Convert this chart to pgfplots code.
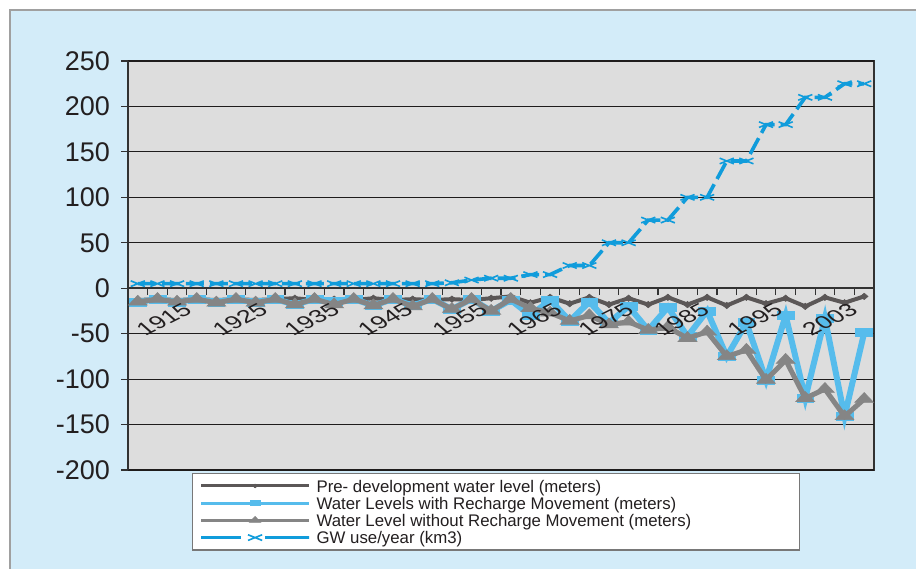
\documentclass[border=0pt]{standalone}
\usepackage{fontspec}
\setmainfont{Liberation Sans}
\usepackage{pgfplots}
\usepackage{pgfplotstable}
\pgfplotsset{compat=1.18}

\definecolor{bgblue}{RGB}{211,236,249}
\definecolor{framegray}{RGB}{160,160,160}
\definecolor{plotgray}{RGB}{221,221,221}
\definecolor{axisdark}{RGB}{50,50,50}
\definecolor{gridblack}{RGB}{30,28,28}
\definecolor{textdark}{RGB}{35,31,32}
\definecolor{predark}{RGB}{91,87,87}
\definecolor{rechblue}{RGB}{86,188,236}
\definecolor{wogray}{RGB}{133,133,133}
\definecolor{gwblue}{RGB}{16,156,219}
\definecolor{legendgray}{RGB}{120,120,120}

% c = category index, one row per period
\pgfplotstableread{
c  pre  rech  wo    gw
0  -13  -15   -15   5
1  -12  -12   -12   5
2  -13  -15   -15   5
3  -12  -12   -12   5
4  -13  -15   -16   5
5  -12  -12   -12   5
6  -13  -16   -16   5
7  -12  -12   -12   5
8  -11  -18   -18   5
9  -13  -12   -12   5
10 -12  -14   -18   5
11 -13  -12   -12   5
12 -11  -19   -19   5
13 -13  -12   -12   5
14 -12  -19   -20   5
15 -13  -12   -12   5
16 -12  -23   -23   6
17 -13  -12   -12   9
18 -11  -25   -25   11
19 -9   -13   -12   11
20 -16  -30   -22   15
21 -10  -13   -27   15
22 -17  -36   -36   25
23 -10  -15   -30   25
24 -18  -38   -40   50
25 -11  -20   -37   50
26 -18  -46   -46   75
27 -10  -21   -43   75
28 -18  -53   -55   100
29 -10  -25   -48   100
30 -19  -75   -75   140
31 -10  -38   -68   140
32 -17  -101  -101  180
33 -11  -30   -79   180
34 -20  -121  -121  210
35 -10  -33   -111  210
36 -16  -141  -141  225
37 -9   -49   -122  225
}\data

\begin{document}
\begin{tikzpicture}[
  yearlabel/.style={font=\fontsize{9}{10}\selectfont, text=textdark,
    anchor=center, inner sep=0pt, yshift=-15.5pt, xscale=1.5, rotate=37}]
\useasboundingbox (0pt,0pt) rectangle (458pt,284pt);
\fill[white] (0pt,0pt) rectangle (458pt,284pt);
\fill[bgblue] (5pt,-2pt) rectangle (460pt,279pt);
\draw[framegray, line width=0.6pt] (5pt,-2pt) -- (5pt,279pt) -- (460pt,279pt);

\begin{axis}[
  at={(64pt,49pt)}, anchor=south west,
  width=373pt, height=204.5pt, scale only axis,
  clip mode=individual,
  xmin=-0.5, xmax=37.5, ymin=-200, ymax=250,
  axis x line=middle, axis y line=left,
  axis line style={-, draw=axisdark, line width=0.9pt},
  axis background/.style={fill=plotgray, draw=axisdark, line width=0.9pt},
  tick align=outside, major tick length=3.5pt,
  tick style={draw=axisdark, line width=0.6pt},
  ytick={-200,-150,...,250},
  yticklabels={-200,-150,-100,-50,0,50,100,150,200,250},
  yticklabel style={font=\fontsize{13.5}{14}\selectfont, text=textdark, xshift=-2pt},
  ymajorgrids, grid style={draw=gridblack, line width=0.6pt},
  xtick={-0.5,0.5,...,37.5}, xticklabels={},
  legend style={at={(0.0858,-0.0073)}, anchor=north west,
    draw=legendgray, fill=white, line width=0.6pt,
    font=\fontsize{8.4}{8.6}\selectfont,
    inner xsep=3.5pt, inner ysep=1.9pt, row sep=0pt,
    nodes={inner xsep=1.5pt, inner ysep=0pt, text height=7.45pt,
      text depth=1.15pt, text=textdark}},
  legend cell align=left,
  legend image code/.code={\draw[mark repeat=2,mark phase=2, line width=1.5pt,
    every mark/.append style={scale=0.6}]
    plot coordinates {(0pt,0pt)(27pt,0pt)(54pt,0pt)};},
]
\addplot[color=predark, line width=2pt, mark=diamond*, mark size=1.6pt,
  mark options={xscale=1.6, line width=0.3pt}] table[x=c, y=pre] {\data};
\addlegendentry{\makebox[238pt][l]{\hspace{1.5pt}Pre- development water level (meters)}}

\addplot[color=rechblue, line width=3pt, mark=square*, mark size=2pt,
  mark options={xscale=2.1, line width=0.3pt}] table[x=c, y=rech] {\data};
\addlegendentry{\makebox[238pt][l]{\hspace{1.5pt}Water Levels with Recharge Movement (meters)}}

\addplot[color=wogray, line width=2.5pt, mark=triangle*, mark size=3.3pt,
  mark options={xscale=1.65, line width=0.3pt}] table[x=c, y=wo] {\data};
\addlegendentry{\makebox[238pt][l]{\hspace{1.5pt}Water Level without Recharge Movement (meters)}}

\addplot[color=gwblue, line width=1.8pt, dash pattern=on 9pt off 3pt,
  mark=x, mark size=5pt, mark options={yscale=0.4, solid, line width=0.8pt},
  legend image code/.code={\draw[mark repeat=2,mark phase=2, line width=1.5pt,
    dash pattern=on 20pt off 12pt on 22pt off 0pt]
    plot coordinates {(0pt,0pt)(27pt,0pt)(54pt,0pt)};}]
  table[x=c, y=gw] {\data};
\addlegendentry{\makebox[238pt][l]{\hspace{1.5pt}GW use/year (km3)}}

% year labels of the category axis, set over the data as in the original
\node[yearlabel] at (axis cs:1.32,0) {1915};
\node[yearlabel] at (axis cs:5.2,0) {1925};
\node[yearlabel] at (axis cs:8.86,0) {1935};
\node[yearlabel] at (axis cs:12.6,0) {1945};
\node[yearlabel] at (axis cs:16.4,0) {1955};
\node[yearlabel] at (axis cs:20.2,0) {1965};
\node[yearlabel] at (axis cs:23.84,0) {1975};
\node[yearlabel] at (axis cs:27.7,0) {1985};
\node[yearlabel] at (axis cs:31.43,0) {1995};
\node[yearlabel] at (axis cs:35.25,0) {2003};
\end{axis}
\end{tikzpicture}
\end{document}
